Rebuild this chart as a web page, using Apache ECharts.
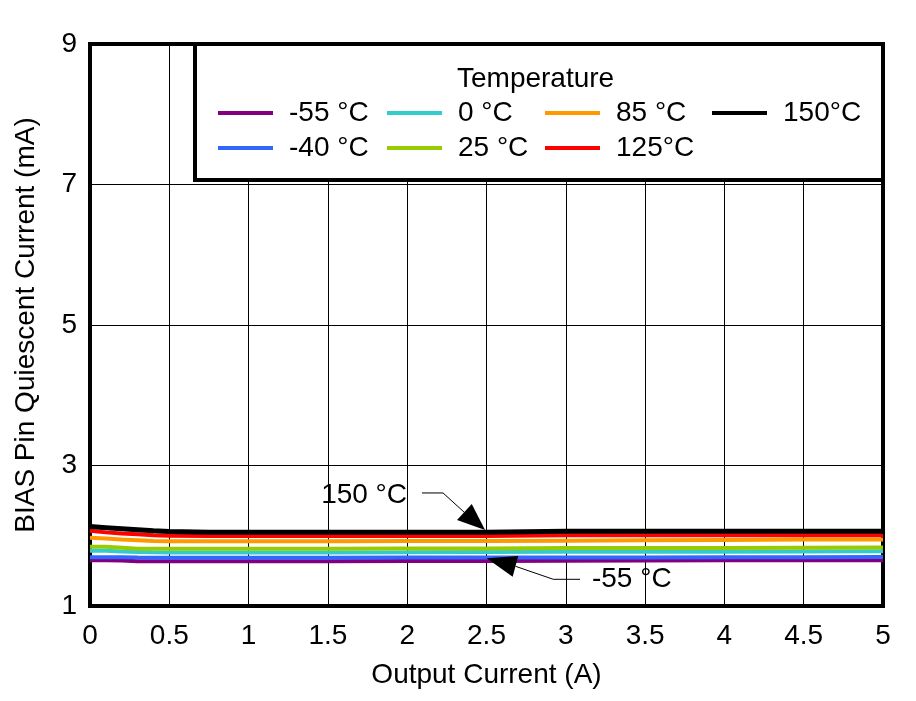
<!DOCTYPE html>
<html>
<head>
<meta charset="utf-8">
<script src="https://cdn.jsdelivr.net/npm/echarts@6/dist/echarts.min.js"></script>
<style>
  html, body { margin: 0; padding: 0; background: #fff; }
  #main { width: 916px; height: 701px; }
</style>
</head>
<body>
<div id="main"></div>
<script>
// output current (A)
const xs = [0, 0.1, 0.2, 0.3, 0.4, 0.5, 0.75, 1, 1.5, 2, 2.5, 3, 3.5, 4, 4.5, 5];

// BIAS quiescent current (mA), one per temperature
const m55 = [1.65, 1.65, 1.648, 1.638, 1.636, 1.636, 1.636, 1.636, 1.637, 1.639, 1.641, 1.645, 1.648, 1.65, 1.65, 1.65];
const m40 = [1.695, 1.695, 1.695, 1.69, 1.688, 1.688, 1.688, 1.688, 1.688, 1.689, 1.69, 1.691, 1.692, 1.693, 1.695, 1.697];
const t0 = [1.788, 1.786, 1.775, 1.77, 1.764, 1.762, 1.762, 1.762, 1.763, 1.765, 1.768, 1.772, 1.773, 1.774, 1.776, 1.778];
const t25 = [1.843, 1.842, 1.83, 1.816, 1.814, 1.814, 1.814, 1.814, 1.815, 1.818, 1.82, 1.825, 1.826, 1.826, 1.83, 1.832];
const t85 = [1.97, 1.96, 1.948, 1.937, 1.926, 1.923, 1.922, 1.922, 1.922, 1.924, 1.926, 1.93, 1.935, 1.94, 1.945, 1.945];
const t125 = [2.07, 2.048, 2.032, 2.02, 2.006, 2.0, 1.997, 1.997, 1.997, 1.997, 1.997, 2.006, 2.006, 2.006, 2.006, 2.006];
const t150 = [2.13, 2.115, 2.1, 2.085, 2.07, 2.062, 2.05, 2.049, 2.049, 2.049, 2.05, 2.063, 2.063, 2.063, 2.063, 2.063];

const names = ["-55 °C", "-40 °C", "0 °C", "25 °C", "85 °C", "125°C", "150°C"];
const values = [m55, m40, t0, t25, t85, t125, t150];
const colors = ["#800080", "#3366FF", "#33CCCC", "#99CC00", "#FF9900", "#FF0000", "#000000"];

const xTicks = [0, 0.5, 1, 1.5, 2, 2.5, 3, 3.5, 4, 4.5, 5];
const yTicks = [1, 3, 5, 7, 9];

// annotation leaders, in data units
const hotLeader = [[2.093, 2.609], [2.226, 2.609], [2.358, 2.338]];
const hotHead = [[2.491, 2.082], [2.407, 2.452], [2.314, 2.224]];
const hotLabel = [1.999, 2.58];
const coldLeader = [[2.683, 1.565], [2.921, 1.38], [3.09, 1.38]];
const coldHead = [[2.501, 1.679], [2.7, 1.712], [2.665, 1.417]];
const coldLabel = [3.165, 1.384];

const font = "'Liberation Sans', Arial, sans-serif";
const fs = 28;

const chart = echarts.init(document.getElementById("main"));

function legendCol(data, left) {
  return {
    data: data,
    orient: "vertical",
    left: left,
    top: 98,
    padding: 0,
    itemGap: 5,
    itemWidth: 55,
    itemHeight: 4,
    icon: "rect",
    selectedMode: false,
    z: 200,
    textStyle: { fontSize: fs, fontFamily: font, color: "#000", lineHeight: 30, padding: [0, 0, 0, 11] }
  };
}

const option = {
  backgroundColor: "#fff",
  animation: false,
  title: {
    text: "Temperature",
    left: 457,
    top: 65,
    padding: 0,
    z: 200,
    textStyle: { fontSize: fs, fontFamily: font, fontWeight: "normal", color: "#000" }
  },
  legend: [
    legendCol([names[0], names[1]], 218),
    legendCol([names[2], names[3]], 387),
    legendCol([names[4], names[5]], 545),
    legendCol([names[6]], 712)
  ],
  grid: {
    left: 90,
    right: 33,
    top: 44,
    bottom: 95,
    show: true,
    borderColor: "#000",
    borderWidth: 4,
    z: 10
  },
  xAxis: {
    type: "value",
    min: 0,
    max: 5,
    interval: 0.5,
    name: "Output Current (A)",
    nameLocation: "middle",
    nameGap: 55,
    nameTextStyle: { fontSize: fs, fontFamily: font, color: "#000" },
    axisLine: { show: false },
    axisTick: { show: false },
    axisLabel: {
      fontSize: fs,
      fontFamily: font,
      color: "#000",
      margin: 16,
      customValues: xTicks,
      formatter: v => String(v)
    },
    splitLine: { show: true, lineStyle: { color: "#000", width: 1 } }
  },
  yAxis: {
    type: "value",
    min: 1,
    max: 9,
    interval: 2,
    name: "BIAS Pin Quiescent Current (mA)",
    nameLocation: "middle",
    nameGap: 50,
    nameTextStyle: { fontSize: fs, fontFamily: font, color: "#000" },
    axisLine: { show: false },
    axisTick: { show: false },
    axisLabel: {
      fontSize: fs,
      fontFamily: font,
      color: "#000",
      margin: 13,
      customValues: yTicks
    },
    splitLine: { show: true, lineStyle: { color: "#000", width: 1 } }
  },
  series: names.map((n, i) => ({
    name: n,
    type: "line",
    data: xs.map((x, j) => [x, values[i][j]]),
    showSymbol: false,
    symbol: "none",
    color: colors[i],
    lineStyle: { color: colors[i], width: i === 6 ? 5 : 4 },
    z: 20 + i
  }))
};

chart.setOption(option);

// legend frame and annotations, placed after the axes exist
const px = p => chart.convertToPixel({ gridIndex: 0 }, p);
const gp = chart.getModel().getComponent("grid").coordinateSystem.getRect();

chart.setOption({
  graphic: [
    {
      type: "rect",
      z: 100,
      shape: { x: 195, y: gp.y, width: gp.x + gp.width - 195, height: 136 },
      style: { fill: "#fff", stroke: "#000", lineWidth: 4 }
    },
    {
      type: "polyline",
      z: 100,
      shape: { points: hotLeader.map(px) },
      style: { stroke: "#000", lineWidth: 1, fill: null }
    },
    {
      type: "polygon",
      z: 100,
      shape: { points: hotHead.map(px) },
      style: { fill: "#000" }
    },
    {
      type: "text",
      z: 100,
      x: px(hotLabel)[0],
      y: px(hotLabel)[1],
      style: { text: "150 °C", font: fs + "px " + font, fill: "#000", align: "right", verticalAlign: "middle" }
    },
    {
      type: "polyline",
      z: 100,
      shape: { points: coldLeader.map(px) },
      style: { stroke: "#000", lineWidth: 1, fill: null }
    },
    {
      type: "polygon",
      z: 100,
      shape: { points: coldHead.map(px) },
      style: { fill: "#000" }
    },
    {
      type: "text",
      z: 100,
      x: px(coldLabel)[0],
      y: px(coldLabel)[1],
      style: { text: "-55 °C", font: fs + "px " + font, fill: "#000", align: "left", verticalAlign: "middle" }
    }
  ]
});
</script>
</body>
</html>
